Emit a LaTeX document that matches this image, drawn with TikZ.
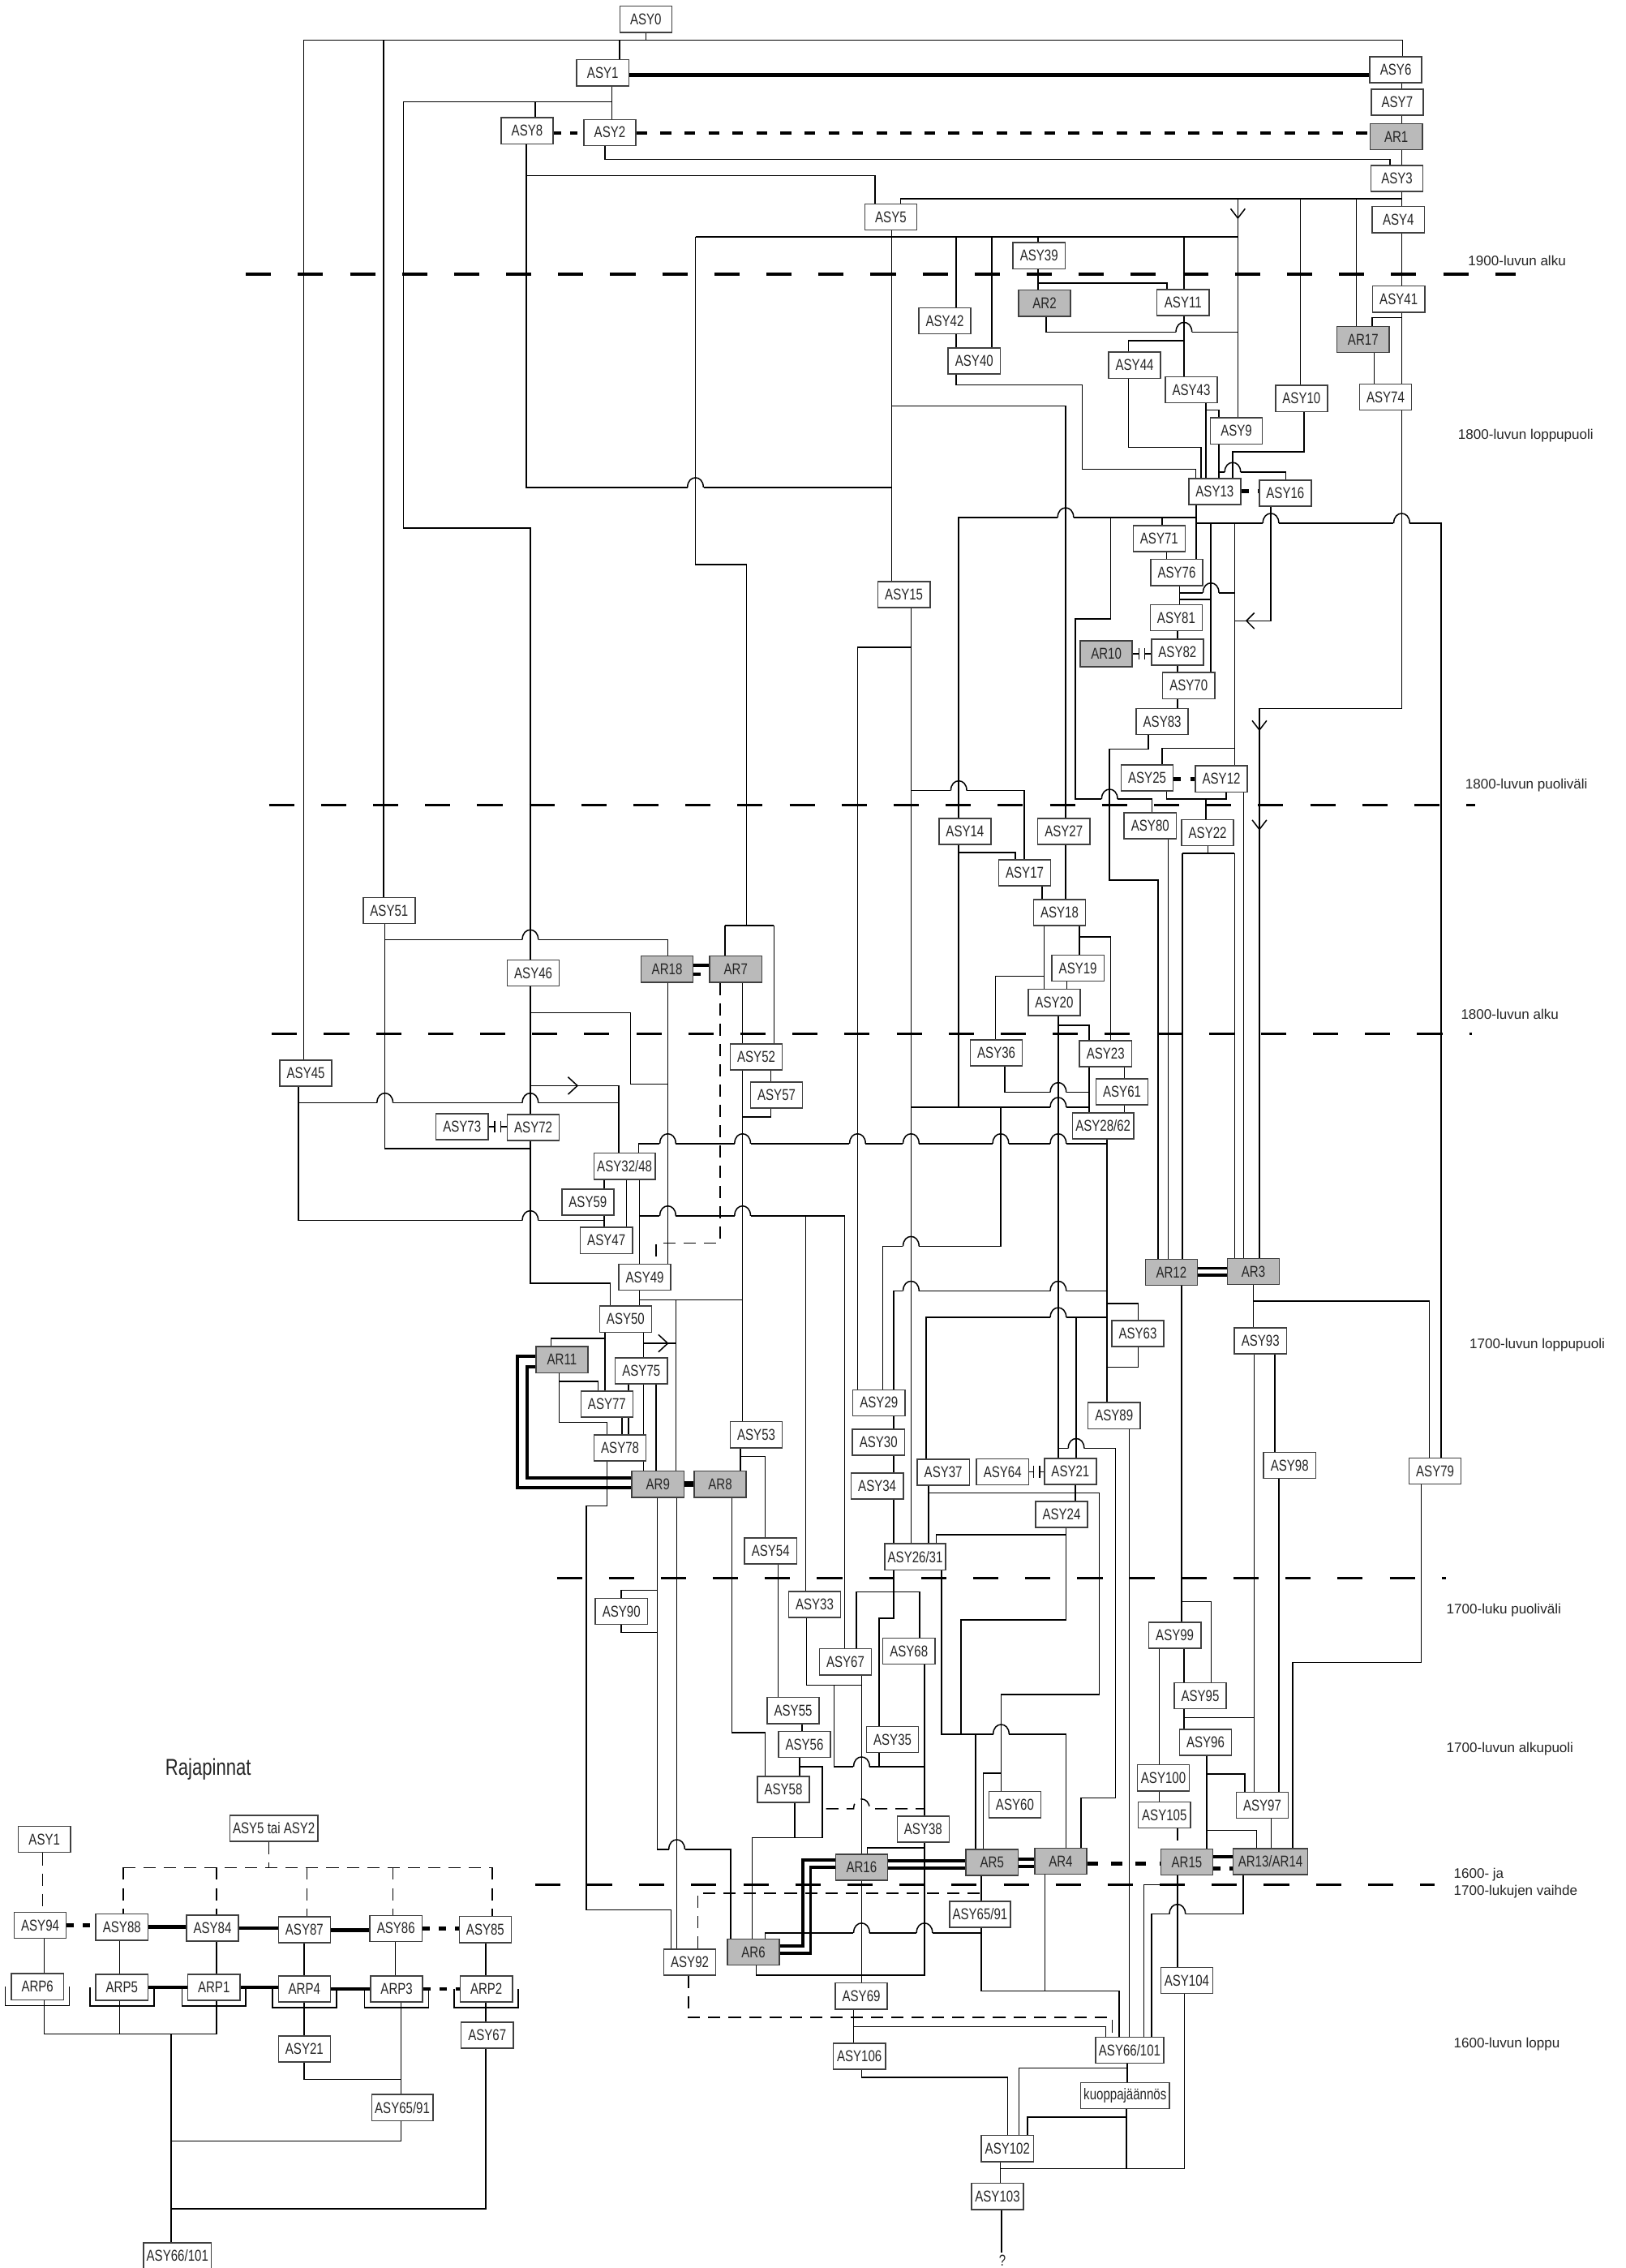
\documentclass[tikz,border=0pt]{standalone}
\usepackage{fontspec}
\newfontfamily\narrowfont{Liberation Sans}[FakeStretch=0.78]
\newfontfamily\plainfont{Liberation Sans}
\usetikzlibrary{backgrounds}
\newcommand\hopover[2]{%
  \fill[white] (#1-5.6,#2-1) rectangle (#1+5.6,#2+1);
  \draw[wire] (#1,#2-2.5) -- (#1,#2+2.5);
  \draw[wire] (#1-5.5,#2) .. controls (#1-5.5,#2-9) and (#1+5.5,#2-9) .. (#1+5.5,#2);}
\newcommand\tipdown[2]{\draw[wire] (#1-5,#2-6.5) -- (#1,#2) -- (#1+5,#2-6.5);}
\newcommand\tipright[2]{\draw[wire] (#1-6.5,#2-6) -- (#1,#2) -- (#1-6.5,#2+6);}
\newcommand\tipleft[2]{\draw[wire] (#1+5.5,#2-5.5) -- (#1,#2) -- (#1+5.5,#2+5.5);}
\newcommand\stopmark[3]{%
  \draw[wire] (#1.east) -- (#1.east -| #3-2,0) ++(0,-4) -- ++(0,8);
  \draw[wire] (#2.west |- #1.east) -- (#1.east -| #3+2,0) ++(0,-4) -- ++(0,8);}
\newcommand\arpcup[1]{\draw[wire] ([shift={(-3.7,0)}]#1.west) -- ([shift={(-3.7,3.5)}]#1.south west) -- ([shift={(3.7,3.5)}]#1.south east) -- ([shift={(3.7,0)}]#1.east);}
\begin{document}
\begin{tikzpicture}[x=0.025cm,y=-0.025cm,
  box/.style={draw=black!75,line width=0.6pt,fill=white,text=black!85,minimum width=0.9cm,minimum height=0.45cm,inner sep=1.5pt,font=\narrowfont\fontsize{7.7}{9}\selectfont},
  arbox/.style={box,fill=black!27},
  tag/.style={inner sep=1pt,text=black!85,font=\narrowfont\fontsize{7.7}{9}\selectfont},
  stamp/.style={anchor=west,align=left,inner sep=0pt,text=black!85,font=\plainfont\fontsize{6.8}{8.2}\selectfont},
  wire/.style={line width=0.6pt},
  heavy/.style={line width=1.9pt},
  heavy2/.style={line width=1.5pt},
  heavy3/.style={line width=2.6pt},
  heavydash/.style={line width=1.9pt,dash pattern=on 5.3pt off 6.5pt},
  shortdash/.style={line width=1.9pt,dash pattern=on 3.5pt off 4.5pt},
  thindash/.style={line width=0.6pt,dash pattern=on 6pt off 4pt},
  period/.style={line width=1.4pt,dash pattern=on 12.4pt off 13.2pt}]
\useasboundingbox (0,0) rectangle (1124,1568);

\node[box] (asy0) at (446.6,13.3) {ASY0};
\node[box] (asy1) at (416.8,50.3) {ASY1};
\node[box] (asy6) at (965.2,48.2) {ASY6};
\node[box] (asy7) at (966.2,70.7) {ASY7};
\node[box] (asy8) at (364.5,90.4) {ASY8};
\node[box] (asy2) at (421.7,91.6) {ASY2};
\node[arbox] (ar1) at (965.5,94.5) {AR1};
\node[box] (asy3) at (966,123.3) {ASY3};
\node[box] (asy5) at (616,150) {ASY5};
\node[box] (asy4) at (967,151.8) {ASY4};
\node[box] (asy39) at (718.5,176.8) {ASY39};
\node[arbox] (ar2) at (722.3,209.6) {AR2};
\node[box] (asy11) at (818.1,209.2) {ASY11};
\node[box] (asy41) at (967.2,206.8) {ASY41};
\node[box] (asy42) at (653.3,221.8) {ASY42};
\node[arbox] (ar17) at (942.6,234.7) {AR17};
\node[box] (asy40) at (673.7,249.5) {ASY40};
\node[box] (asy44) at (784.6,252.5) {ASY44};
\node[box] (asy43) at (823.8,269.5) {ASY43};
\node[box] (asy10) at (900,275.5) {ASY10};
\node[box] (asy74) at (958.1,274.6) {ASY74};
\node[box] (asy9) at (855,297.9) {ASY9};
\node[box] (asy13) at (840,339.8) {ASY13};
\node[box] (asy16) at (888.8,341) {ASY16};
\node[box] (asy71) at (801.6,372.3) {ASY71};
\node[box] (asy76) at (813.7,395.8) {ASY76};
\node[box] (asy15) at (625.1,411.1) {ASY15};
\node[box] (asy81) at (813.4,427) {ASY81};
\node[arbox] (ar10) at (765,452.1) {AR10};
\node[box] (asy82) at (814.2,450.8) {ASY82};
\node[box] (asy70) at (822,474) {ASY70};
\node[box] (asy83) at (803.7,498.8) {ASY83};
\node[box] (asy25) at (793.3,537.7) {ASY25};
\node[box] (asy12) at (844.6,538.5) {ASY12};
\node[box] (asy14) at (667.3,574.9) {ASY14};
\node[box] (asy27) at (735.6,574.9) {ASY27};
\node[box] (asy80) at (795.4,570.8) {ASY80};
\node[box] (asy22) at (835.1,575.7) {ASY22};
\node[box] (asy17) at (708.6,603.5) {ASY17};
\node[box] (asy51) at (269.1,629.5) {ASY51};
\node[box] (asy18) at (732.7,631) {ASY18};
\node[arbox] (ar18) at (461.3,670) {AR18};
\node[arbox] (ar7) at (508.8,670) {AR7};
\node[box] (asy46) at (368.8,672.6) {ASY46};
\node[box] (asy19) at (745.4,669.3) {ASY19};
\node[box] (asy20) at (729,693) {ASY20};
\node[box] (asy36) at (689,727.9) {ASY36};
\node[box] (asy23) at (764.5,728.5) {ASY23};
\node[box] (asy45) at (211.5,742) {ASY45};
\node[box] (asy52) at (523,730.8) {ASY52};
\node[box] (asy61) at (775.9,754.8) {ASY61};
\node[box] (asy57) at (537,757.1) {ASY57};
\node[box] (asy73) at (319.5,779) {ASY73};
\node[box] (asy72) at (368.8,779.5) {ASY72};
\node[box] (asy2862) at (762.8,778.4) {ASY28/62};
\node[box] (asy3248) at (431.9,806.3) {ASY32/48};
\node[box] (asy59) at (406.5,831.1) {ASY59};
\node[box] (asy47) at (419.3,857.6) {ASY47};
\node[arbox] (ar12) at (810,879.7) {AR12};
\node[arbox] (ar3) at (866.7,879) {AR3};
\node[box] (asy49) at (445.9,883) {ASY49};
\node[box] (asy50) at (432.6,912) {ASY50};
\node[box] (asy63) at (786.8,921.9) {ASY63};
\node[box] (asy93) at (871.6,927) {ASY93};
\node[arbox] (ar11) at (388.6,940) {AR11};
\node[box] (asy75) at (443.5,947.8) {ASY75};
\node[box] (asy77) at (419.7,970.7) {ASY77};
\node[box] (asy29) at (607.8,969.8) {ASY29};
\node[box] (asy89) at (770.4,978.7) {ASY89};
\node[box] (asy53) at (523,991.9) {ASY53};
\node[box] (asy30) at (607.5,997.2) {ASY30};
\node[box] (asy78) at (428.8,1001) {ASY78};
\node[box] (asy37) at (652.3,1017.8) {ASY37};
\node[box] (asy64) at (693.3,1017.6) {ASY64};
\node[box] (asy21) at (740.2,1017.3) {ASY21};
\node[box] (asy98) at (891.8,1013.1) {ASY98};
\node[box] (asy79) at (992.4,1017) {ASY79};
\node[arbox] (ar9) at (455,1026.1) {AR9};
\node[arbox] (ar8) at (498,1026.1) {AR8};
\node[box] (asy34) at (606.6,1027.4) {ASY34};
\node[box] (asy24) at (734.1,1047.1) {ASY24};
\node[box] (asy54) at (532.9,1072.2) {ASY54};
\node[box] (asy2631) at (632.9,1076.3) {ASY26/31};
\node[box] (asy90) at (429.7,1114) {ASY90};
\node[box] (asy33) at (563.3,1109.3) {ASY33};
\node[box] (asy99) at (812.4,1130.6) {ASY99};
\node[box] (asy67) at (584.6,1148.9) {ASY67};
\node[box] (asy68) at (628.5,1141.6) {ASY68};
\node[box] (asy95) at (830,1172.4) {ASY95};
\node[box] (asy55) at (548.5,1182.6) {ASY55};
\node[box] (asy56) at (556.3,1206) {ASY56};
\node[box] (asy35) at (617.2,1202.6) {ASY35};
\node[box] (asy96) at (833.6,1204.5) {ASY96};
\node[box] (asy58) at (541.7,1237.1) {ASY58};
\node[box] (asy100) at (804.5,1229.1) {ASY100};
\node[box] (asy60) at (701.8,1247.6) {ASY60};
\node[box] (asy97) at (872.9,1248) {ASY97};
\node[box] (asy105) at (805.2,1254.7) {ASY105};
\node[box] (asy38) at (638.4,1264.5) {ASY38};
\node[arbox] (ar16) at (595.8,1290.9) {AR16};
\node[arbox] (ar5) at (686,1287.5) {AR5};
\node[arbox] (ar4) at (733.5,1286.8) {AR4};
\node[arbox] (ar15) at (820.7,1287.3) {AR15};
\node[arbox,minimum width=1.29cm] (ar1314) at (878.5,1287) {AR13/AR14};
\node[box] (asy6591) at (677.7,1323.5) {ASY65/91};
\node[box] (asy92) at (477,1356.6) {ASY92};
\node[arbox] (ar6) at (521,1349.5) {AR6};
\node[box] (asy104) at (820.7,1369.2) {ASY104};
\node[box] (asy69) at (595.6,1380) {ASY69};
\node[box] (asy66101) at (781.2,1417.5) {ASY66/101};
\node[box] (asy106) at (594.3,1421.7) {ASY106};
\node[box] (kuoppa) at (778,1448.9) {kuoppajäännös};
\node[box] (asy102) at (696.7,1485.4) {ASY102};
\node[box] (asy103) at (689.8,1518.5) {ASY103};
\node[tag] (q) at (693.2,1563) {?};

\node[tag,font=\narrowfont\fontsize{11.3}{13}\selectfont] (raja) at (144,1223) {Rajapinnat};
\node[box] (lasy1) at (30.7,1271.7) {ASY1};
\node[box] (lasy52) at (189.4,1264) {ASY5 tai ASY2};
\node[box] (lasy94) at (27.8,1331) {ASY94};
\node[box] (lasy88) at (84.3,1332.3) {ASY88};
\node[box] (lasy84) at (146.9,1333) {ASY84};
\node[box] (lasy87) at (210.5,1334.2) {ASY87};
\node[box] (lasy86) at (273.8,1333.2) {ASY86};
\node[box] (lasy85) at (335.6,1334) {ASY85};
\node[box] (larp6) at (25.9,1373.5) {ARP6};
\node[box] (larp5) at (84.3,1374) {ARP5};
\node[box] (larp1) at (147.9,1374) {ARP1};
\node[box] (larp4) at (210.5,1375) {ARP4};
\node[box] (larp3) at (274.3,1375) {ARP3};
\node[box] (larp2) at (336.3,1375) {ARP2};
\node[box] (lasy21) at (210.5,1416.6) {ASY21};
\node[box] (lasy67) at (336.9,1407) {ASY67};
\node[box] (lasy6591) at (278.2,1457.1) {ASY65/91};
\node[box] (lasy66101) at (122.7,1559.5) {ASY66/101};

\node[stamp] (p1) at (1015,180) {1900-luvun alku};
\node[stamp] (p2) at (1008,301) {1800-luvun loppupuoli};
\node[stamp] (p3) at (1013,543) {1800-luvun puoliväli};
\node[stamp] (p4) at (1010,701) {1800-luvun alku};
\node[stamp] (p5) at (1016,930) {1700-luvun loppupuoli};
\node[stamp] (p6) at (1000,1113) {1700-luku puoliväli};
\node[stamp] (p7) at (1000,1209) {1700-luvun alkupuoli};
\node[stamp] (p8) at (1005,1302) {1600- ja\\1700-lukujen vaihde};
\node[stamp] (p9) at (1005,1413) {1600-luvun loppu};

\begin{scope}[on background layer]
\fill[white] (0,0) rectangle (1124,1568);
\draw[period] (170,189.6) -- (1048,189.6);
\draw[period] (186,556.7) -- (1020,556.7);
\draw[period] (188,714.6) -- (1018,714.6);
\draw[period] (385,1090.9) -- (1000,1090.9);
\draw[period] (370,1303.1) -- (992,1303.1);

\draw[wire] (asy45.north -| 210,0) -- (210,27.7) -- (969.8,27.7) -- (asy6.north -| 969.8,0);
\draw[wire] (asy0.south) -- (asy0.south |- 0,27.7);
\draw[wire] (428.4,27.7) -- (asy1.north -| 428.4,0);
\draw[wire] (265.3,27.7) -- (asy51.north -| 265.3,0);
\draw[heavy] (asy1.east |- 0,51.7) -- (asy6.west |- 0,51.7);
\draw[wire] (asy6.south -| 969.3,0) -- (969.3,489.9) -- (870.9,489.9) -- (ar3.north -| 870.9,0);
\draw[wire] (969.3,219.5) -- (948.9,219.5) -- (ar17.north -| 948.9,0);
\draw[wire] (ar17.south -| 950.2,0) -- (asy74.north -| 950.2,0);
\draw[wire] (asy1.south -| 423,0) -- (423,70.3) -- (279,70.3) -- (279,365.1) -- (366.7,365.1) -- (asy46.north -| 366.7,0);
\draw[wire] (370.2,70.3) -- (asy8.north -| 370.2,0);
\draw[wire] (423,70.3) -- (asy2.north -| 423,0);
\draw[shortdash] (asy8.east |- 0,92) -- (asy2.west |- 0,92);
\draw[heavydash] (asy2.east |- 0,92) -- (ar1.west |- 0,92);
\draw[wire] (asy2.south -| 418.4,0) -- (418.4,110.2) -- (961.1,110.2) -- (asy3.north -| 961.1,0);
\draw[wire] (asy8.south -| 364,0) -- (364,337) -- (616.5,337);
\draw[wire] (364,121.3) -- (605,121.3) -- (asy5.north -| 605,0);
\draw[wire] (969.3,137.5) -- (622.7,137.5) -- (asy5.north -| 622.7,0);
\draw[wire] (899.1,137.5) -- (asy10.north -| 899.1,0);
\draw[wire] (938,137.5) -- (ar17.north -| 938,0);
\draw[wire] (856,137.5) -- (asy9.north -| 856,0);
\draw[wire] (asy5.south -| 616.5,0) -- (asy15.north -| 616.5,0);
\draw[wire] (480.9,163.7) -- (856,163.7);
\draw[wire] (480.9,163.7) -- (480.9,390.3) -- (516.2,390.3) -- (516.2,639.8);
\draw[wire] (501.3,639.8) -- (535.2,639.8);
\draw[wire] (501.3,639.8) -- (ar7.north -| 501.3,0);
\draw[wire] (535.2,639.8) -- (asy52.north -| 535.2,0);
\draw[wire] (661.3,163.7) -- (asy42.north -| 661.3,0);
\draw[wire] (685.8,163.7) -- (asy40.north -| 685.8,0);
\draw[wire] (717.8,163.7) -- (asy39.north -| 717.8,0);
\draw[wire] (818.7,163.7) -- (asy11.north -| 818.7,0);
\draw[wire] (asy39.south -| 717.8,0) -- (ar2.north -| 717.8,0);
\draw[wire] (717.8,195.6) -- (807,195.6) -- (asy11.north -| 807,0);
\draw[wire] (ar2.south -| 723.3,0) -- (723.3,229.6) -- (856,229.6);
\draw[wire] (asy11.south -| 818.7,0) -- (asy43.north -| 818.7,0);
\draw[wire] (818.7,235.5) -- (780.4,235.5) -- (asy44.north -| 780.4,0);
\draw[wire] (asy42.south -| 661.3,0) -- (asy40.north -| 661.3,0);
\draw[wire] (asy40.south -| 661.3,0) -- (661.3,266.2) -- (748.3,266.2) -- (748.3,324.3) -- (827,324.3) -- (asy13.north -| 827,0);
\draw[wire] (asy44.south -| 780.4,0) -- (780.4,309.4) -- (830.5,309.4) -- (asy13.north -| 830.5,0);
\draw[wire] (asy43.south -| 833.9,0) -- (asy13.north -| 833.9,0);
\draw[wire] (833.9,283.5) -- (842.9,283.5) -- (asy9.north -| 842.9,0);
\draw[wire] (asy9.south -| 842.9,0) -- (asy13.north -| 842.9,0);
\draw[wire] (842.9,326.5) -- (889.1,326.5) -- (asy16.north -| 889.1,0);
\draw[wire] (asy10.south -| 901.9,0) -- (901.9,312.3) -- (852.4,312.3) -- (asy13.north -| 852.4,0);
\draw[shortdash] (asy13.east |- 0,339.5) -- (asy16.west |- 0,339.5);

\draw[wire] (asy13.south -| 827.1,0) -- (asy76.north -| 827.1,0);
\draw[wire] (827.1,357.8) -- (663,357.8) -- (asy14.north -| 663,0);
\draw[wire] (803.5,357.8) -- (asy71.north -| 803.5,0);
\draw[wire] (768.1,357.8) -- (768.1,428) -- (743.7,428) -- (743.7,552.4) -- (796.7,552.4) -- (asy80.north -| 796.7,0);
\draw[wire] (827.1,361.7) -- (996.4,361.7) -- (asy79.north -| 996.4,0);
\draw[wire] (837.4,361.7) -- (asy70.north -| 837.4,0);
\draw[wire] (853.7,361.7) -- (asy12.north -| 853.7,0);
\draw[wire] (asy71.south -| 806.7,0) -- (asy76.north -| 806.7,0);
\draw[wire] (asy76.south -| 815.7,0) -- (asy81.north -| 815.7,0);
\draw[wire] (815.7,409.8) -- (853.7,409.8);
\draw[wire] (815.7,414.3) -- (837.4,414.3);
\draw[wire] (asy81.south -| 814.3,0) -- (asy83.north -| 814.3,0);
\stopmark{ar10}{asy82}{789.6}
\draw[wire] (asy16.south -| 878.8,0) -- (878.8,429.2) -- (853.7,429.2);
\draw[wire] (asy83.south -| 794.2,0) -- (794.2,518) -- (767.3,518) -- (767.3,608.4) -- (800.7,608.4) -- (ar12.north -| 800.7,0);
\draw[wire] (asy25.north -| 803.5,0) -- (803.5,517.3) -- (853.7,517.3);
\draw[shortdash] (asy25.east |- 0,538.5) -- (asy12.west |- 0,538.5);
\draw[wire] (asy25.south -| 806.7,0) -- (806.7,552.4) -- (847.8,552.4) -- (asy12.south -| 847.8,0);
\draw[wire] (833.9,552.4) -- (asy22.north -| 833.9,0);
\draw[wire] (asy12.south -| 860,0) -- (ar3.north -| 860,0);
\draw[wire] (asy80.south -| 807.8,0) -- (ar12.north -| 807.8,0);
\draw[wire] (asy22.south -| 835.3,0) -- (835.3,589.9);
\draw[wire] (817.6,589.9) -- (853.7,589.9);
\draw[wire] (817.6,589.9) -- (ar12.north -| 817.6,0);
\draw[wire] (853.7,589.9) -- (ar3.north -| 853.7,0);
\draw[heavy2] (ar12.east |- 0,876.8) -- (ar3.west |- 0,876.8);
\draw[heavy2] (ar12.east |- 0,881.6) -- (ar3.west |- 0,881.6);

\draw[wire] (asy15.south -| 630,0) -- (asy2631.north -| 630,0);
\draw[wire] (630,447.5) -- (593,447.5) -- (asy29.north -| 593,0);
\draw[wire] (630,546.6) -- (708.3,546.6) -- (asy17.north -| 708.3,0);
\draw[wire] (asy14.south -| 663,0) -- (663,765.5);
\draw[wire] (663,589.4) -- (702,589.4) -- (asy17.north -| 702,0);
\draw[wire] (616.5,280.6) -- (736.9,280.6) -- (asy27.north -| 736.9,0);
\draw[wire] (asy17.south -| 720.6,0) -- (asy18.north -| 720.6,0);
\draw[wire] (asy27.south -| 736.9,0) -- (asy18.north -| 736.9,0);
\draw[wire] (asy18.south -| 722,0) -- (asy20.north -| 722,0);
\draw[wire] (722,674.8) -- (688.5,674.8) -- (asy36.north -| 688.5,0);
\draw[wire] (asy18.south -| 746.4,0) -- (asy19.north -| 746.4,0);
\draw[wire] (746.4,647.8) -- (768.1,647.8) -- (asy23.north -| 768.1,0);
\draw[wire] (asy19.south -| 737.7,0) -- (asy20.north -| 737.7,0);
\draw[wire] (asy20.south -| 731.8,0) -- (asy21.north -| 731.8,0);
\draw[wire] (731.8,708.7) -- (753.2,708.7) -- (asy23.north -| 753.2,0);
\draw[wire] (asy23.south -| 753.2,0) -- (asy2862.north -| 753.2,0);
\draw[wire] (asy23.south -| 777.6,0) -- (asy61.north -| 777.6,0);
\draw[wire] (asy61.south -| 777.6,0) -- (asy2862.north -| 777.6,0);
\draw[wire] (asy36.south -| 694.7,0) -- (694.7,755.2) -- (753.2,755.2);
\draw[wire] (630,765.5) -- (753.2,765.5);
\draw[wire] (692,765.5) -- (692,861.6) -- (610.5,861.6) -- (asy29.north -| 610.5,0);
\draw[wire] (asy2862.south -| 765.4,0) -- (asy89.north -| 765.4,0);
\draw[wire] (asy3248.north -| 441.5,0) -- (441.5,790.6) -- (765.4,790.6);
\draw[wire] (765.4,892.5) -- (618.1,892.5) -- (asy29.north -| 618.1,0);
\draw[wire] (765.4,910.8) -- (640.4,910.8) -- (asy37.north -| 640.4,0);
\draw[wire] (744.2,910.8) -- (asy21.north -| 744.2,0);
\draw[wire] (765.4,901.2) -- (787.2,901.2) -- (asy63.north -| 787.2,0);
\draw[wire] (asy63.south -| 787.2,0) -- (787.2,945.1) -- (765.4,945.1);
\draw[wire] (731.8,1001.3) -- (771.4,1001.3) -- (771.4,1243) -- (747.5,1243) -- (ar4.north -| 747.5,0);
\draw[wire] (asy89.south -| 781,0) -- (asy66101.north -| 781,0);
\stopmark{asy64}{asy21}{716.8}
\draw[wire] (asy29.south -| 618.1,0) -- (asy2631.north -| 618.1,0);
\draw[wire] (asy37.south -| 642,0) -- (asy2631.north -| 642,0);
\draw[wire] (642,1032.1) -- (760.2,1032.1) -- (760.2,1171.5) -- (692.3,1171.5) -- (asy60.north -| 692.3,0);
\draw[wire] (692.3,1225.8) -- (680.1,1225.8) -- (ar5.north -| 680.1,0);
\draw[wire] (asy21.south -| 743.7,0) -- (asy24.north -| 743.7,0);
\draw[wire] (asy24.south -| 737.1,0) -- (737.1,1120) -- (664.6,1120) -- (664.6,1199);
\draw[wire] (737.1,1061) -- (647.4,1061) -- (asy2631.north -| 647.4,0);
\draw[wire] (asy2631.south -| 651,0) -- (651,1199) -- (737.1,1199) -- (ar4.north -| 737.1,0);
\draw[wire] (674.6,1199) -- (ar5.north -| 674.6,0);
\draw[wire] (asy2631.south -| 618.1,0) -- (618.1,1118.9) -- (608,1118.9) -- (asy35.north -| 608,0);
\draw[wire] (592.3,1100.5) -- (636,1100.5);
\draw[wire] (592.3,1100.5) -- (asy67.north -| 592.3,0);
\draw[wire] (636,1100.5) -- (asy68.north -| 636,0);

\draw[wire] (asy3248.south -| 417.8,0) -- (asy47.north -| 417.8,0);
\draw[wire] (asy3248.south -| 433.3,0) -- (asy47.north -| 433.3,0);
\draw[wire] (asy3248.south -| 442.3,0) -- (asy50.north -| 442.3,0);
\draw[wire] (442.3,840.5) -- (584.2,840.5) -- (asy67.north -| 584.2,0);
\draw[wire] (557.2,840.5) -- (asy33.north -| 557.2,0);
\draw[wire] (asy45.south -| 206.4,0) -- (206.4,843.8) -- (417.8,843.8);
\draw[wire] (206.4,762.5) -- (427.9,762.5);
\draw[wire] (366.7,750.6) -- (427.9,750.6) -- (asy3248.north -| 427.9,0);
\draw[wire] (asy46.south -| 366.7,0) -- (asy72.north -| 366.7,0);
\draw[wire] (366.7,700.2) -- (436,700.2) -- (436,749.4) -- (461.8,749.4);
\draw[wire] (asy51.south -| 266.2,0) -- (266.2,794) -- (366.7,794);
\draw[wire] (266.2,649.6) -- (461.8,649.6) -- (ar18.north -| 461.8,0);
\stopmark{asy73}{asy72}{344.2}
\draw[wire] (asy72.south -| 366.7,0) -- (366.7,887.2) -- (421.9,887.2) -- (asy50.north -| 421.9,0);
\draw[wire] (ar18.south -| 461.8,0) -- (asy49.north -| 461.8,0);
\draw[heavy] (ar18.east |- 0,667.3) -- (ar7.west |- 0,667.3);
\draw[shortdash] (ar18.east |- 0,673.5) -- (ar7.west |- 0,673.5);
\draw[thindash] (ar7.south -| 498,0) -- (498,859.3) -- (453.7,859.3) -- (asy49.north -| 453.7,0);
\draw[wire] (ar7.south -| 513.5,0) -- (asy53.north -| 513.5,0);
\draw[wire] (asy52.south -| 533,0) -- (asy57.north -| 533,0);
\draw[wire] (asy57.south -| 533,0) -- (533,772.3) -- (513.5,772.3);
\draw[wire] (442.3,898.7) -- (513.5,898.7);
\draw[wire] (467.3,898.7) -- (ar9.north -| 467.3,0);
\draw[wire] (asy50.south -| 418.3,0) -- (asy77.north -| 418.3,0);
\draw[wire] (418.3,925.2) -- (381.1,925.2) -- (ar11.north -| 381.1,0);
\draw[wire] (asy50.south -| 445,0) -- (asy75.north -| 445,0);
\draw[wire] (445,928.7) -- (467.3,928.7);
\draw[wire] (ar11.south -| 386.6,0) -- (386.6,983.4) -- (419.7,983.4) -- (asy78.north -| 419.7,0);
\draw[wire] (386.6,955) -- (413.5,955) -- (asy77.north -| 413.5,0);
\draw[wire] (asy77.south -| 430,0) -- (asy78.north -| 430,0);
\draw[wire] (asy75.south -| 434.7,0) -- (asy78.north -| 434.7,0);
\draw[wire] (asy75.south -| 445,0) -- (ar9.north -| 445,0);
\draw[wire] (asy75.south -| 453.7,0) -- (ar9.north -| 453.7,0);
\draw[heavy2] (ar11.west |- 0,937.8) -- (357.8,937.8) -- (357.8,1028.7) -- (ar9.west |- 0,1028.7);
\draw[heavy2] (ar11.west |- 0,945) -- (364.5,945) -- (364.5,1021.8) -- (ar9.west |- 0,1021.8);
\draw[heavy3] (ar9.east) -- (ar8.west);
\draw[wire] (asy53.south -| 512.1,0) -- (ar8.north -| 512.1,0);
\draw[wire] (512.1,1006.9) -- (529.2,1006.9) -- (asy54.north -| 529.2,0);
\draw[wire] (asy78.south -| 419.7,0) -- (419.7,1041) -- (405.5,1041) -- (405.5,1320.3) -- (464,1320.3) -- (asy92.north -| 464,0);
\draw[wire] (ar9.south -| 468,0) -- (asy92.north -| 468,0);
\draw[wire] (ar9.south -| 454.5,0) -- (454.5,1278.6) -- (505.3,1278.6) -- (ar6.north -| 505.3,0);
\draw[wire] (asy90.north -| 429.5,0) -- (429.5,1099.4) -- (454.5,1099.4);
\draw[wire] (asy90.south -| 429.5,0) -- (429.5,1128.7) -- (454.5,1128.7);
\draw[wire] (ar8.south -| 506.1,0) -- (506.1,1197.8) -- (529.2,1197.8) -- (asy58.north -| 529.2,0);
\draw[wire] (asy54.south -| 538.2,0) -- (asy55.north -| 538.2,0);
\draw[wire] (asy55.south -| 554.5,0) -- (asy56.north -| 554.5,0);
\draw[wire] (asy56.south -| 552.9,0) -- (asy58.north -| 552.9,0);
\draw[wire] (552.9,1221.4) -- (568.6,1221.4) -- (568.6,1270.5) -- (520.2,1270.5) -- (ar6.north -| 520.2,0);
\draw[wire] (asy58.south -| 549.6,0) -- (549.6,1270.5);
\draw[wire] (asy33.south -| 557.7,0) -- (557.7,1165.1) -- (595.8,1165.1);
\draw[wire] (576.8,1165.1) -- (576.8,1221.4) -- (639.3,1221.4);
\draw[wire] (asy67.south -| 595.8,0) -- (asy69.north -| 595.8,0);
\draw[wire] (asy35.south -| 608,0) -- (608,1221.4);
\draw[wire] (asy68.south -| 639.3,0) -- (639.3,1365.4) -- (523,1365.4) -- (ar6.south -| 523,0);
\draw[wire] (ar16.north -| 599.9,0) -- (599.9,1277.5) -- (639.3,1277.5);
\draw[thindash] (571.3,1250.5) -- (590.3,1250.5) .. controls (590.3,1241.5) and (601.3,1241.5) .. (601.3,1250.5) -- (639.3,1250.5);
\draw[wire] (asy6591.south -| 678.7,0) -- (678.7,1376.4) -- (773.8,1376.4) -- (asy66101.north -| 773.8,0);
\draw[wire] (678.7,1336.3) -- (529.2,1336.3) -- (ar6.north -| 529.2,0);
\draw[wire] (ar5.south -| 678.7,0) -- (asy6591.north -| 678.7,0);
\draw[wire] (ar4.south -| 722.7,0) -- (722.7,1376.4);
\draw[thindash] (asy92.north -| 482.5,0) -- (482.5,1308.8) -- (678.7,1308.8);
\draw[thindash] (asy92.south -| 476.2,0) -- (476.2,1394.6) -- (769,1394.6) -- (asy66101.north -| 769,0);
\draw[heavy2] (ar16.east |- 0,1286.5) -- (ar5.west |- 0,1286.5);
\draw[heavy2] (ar16.east |- 0,1291.5) -- (ar5.west |- 0,1291.5);
\draw[heavy2] (ar5.east |- 0,1285.5) -- (ar4.west |- 0,1285.5);
\draw[heavy2] (ar5.east |- 0,1290.5) -- (ar4.west |- 0,1290.5);
\draw[heavy2] (ar16.west |- 0,1286) -- (555,1286) -- (555,1345.5) -- (ar6.east |- 0,1345.5);
\draw[heavy2] (ar16.west |- 0,1291) -- (560.5,1291) -- (560.5,1350.5) -- (ar6.east |- 0,1350.5);
\draw[heavydash] (ar4.east |- 0,1288.3) -- (ar15.west |- 0,1288.3);
\draw[heavy] (ar15.east |- 0,1283.7) -- (ar1314.west |- 0,1283.7);
\draw[shortdash] (ar15.east |- 0,1291.7) -- (ar1314.west |- 0,1291.7);

\draw[wire] (ar12.south -| 817.2,0) -- (asy99.north -| 817.2,0);
\draw[wire] (817.2,1107.4) -- (837.6,1107.4) -- (asy95.north -| 837.6,0);
\draw[wire] (ar3.south -| 866.8,0) -- (asy93.north -| 866.8,0);
\draw[wire] (866.8,899.4) -- (988.3,899.4) -- (asy79.north -| 988.3,0);
\draw[wire] (asy93.south -| 867.2,0) -- (asy97.north -| 867.2,0);
\draw[wire] (asy93.south -| 881.5,0) -- (asy98.north -| 881.5,0);
\draw[wire] (asy98.south -| 884.3,0) -- (asy97.north -| 884.3,0);
\draw[wire] (asy79.south -| 982.8,0) -- (982.8,1149.3) -- (894,1149.3) -- (ar1314.north -| 894,0);
\draw[wire] (asy99.south -| 818.9,0) -- (asy96.north -| 818.9,0);
\draw[wire] (asy99.south -| 801.7,0) -- (asy105.north -| 801.7,0);
\draw[wire] (818.9,1187.5) -- (867.2,1187.5);
\draw[wire] (asy96.south -| 834.6,0) -- (ar15.north -| 834.6,0);
\draw[wire] (834.6,1226.4) -- (860.7,1226.4) -- (asy97.north -| 860.7,0);
\draw[wire] (834.6,1265.4) -- (868.9,1265.4) -- (ar1314.north -| 868.9,0);
\draw[thindash] (asy105.south -| 814.2,0) -- (ar15.north -| 814.2,0);
\draw[wire] (asy97.south -| 879,0) -- (ar1314.north -| 879,0);
\draw[wire] (ar15.south -| 814.2,0) -- (asy104.north -| 814.2,0);
\draw[wire] (814.2,1303.1) -- (791,1303.1) -- (asy66101.north -| 791,0);
\draw[wire] (ar1314.south -| 859.7,0) -- (859.7,1323.3) -- (796.4,1323.3) -- (asy66101.north -| 796.4,0);
\draw[wire] (asy69.south -| 590.1,0) -- (asy106.north -| 590.1,0);
\draw[wire] (590.1,1401.2) -- (764.7,1401.2) -- (asy66101.north -| 764.7,0);
\draw[wire] (asy106.south -| 595.8,0) -- (595.8,1436.3) -- (696.9,1436.3) -- (asy102.north -| 696.9,0);
\draw[wire] (asy66101.south -| 779.6,0) -- (kuoppa.north -| 779.6,0);
\draw[wire] (779.6,1429.8) -- (704.6,1429.8) -- (asy102.north -| 704.6,0);
\draw[wire] (kuoppa.south -| 779,0) -- (779,1499.3);
\draw[wire] (779,1463.8) -- (710.6,1463.8) -- (asy102.north -| 710.6,0);
\draw[wire] (asy102.south -| 691.7,0) -- (asy103.north -| 691.7,0);
\draw[wire] (691.7,1499.3) -- (819.1,1499.3) -- (asy104.south -| 819.1,0);
\draw[wire] (asy103.south -| 692.6,0) -- (q.north -| 692.6,0);

\tipdown{856}{150.8}
\tipleft{861.9}{429.2}
\tipdown{870.9}{504.7}
\tipdown{870.9}{573.4}
\tipright{399.3}{750.6}
\tipright{461.8}{928.7}

\draw[thindash] (lasy1.south -| 29.5,0) -- (lasy94.north -| 29.5,0);
\draw[thindash] (lasy52.south -| 186,0) -- (186,1291.2);
\draw[thindash] (85.1,1291.2) -- (340.5,1291.2);
\draw[thindash] (85.1,1291.2) -- (lasy88.north -| 85.1,0);
\draw[thindash] (149.7,1291.2) -- (lasy84.north -| 149.7,0);
\draw[thindash] (212.3,1291.2) -- (lasy87.north -| 212.3,0);
\draw[thindash] (271.7,1291.2) -- (lasy86.north -| 271.7,0);
\draw[thindash] (340.5,1291.2) -- (lasy85.north -| 340.5,0);
\draw[shortdash] (lasy94.east) -- (lasy88.west |- lasy94.east);
\draw[heavy] (lasy88.east) -- (lasy84.west |- lasy88.east);
\draw[heavy] (lasy84.east) -- (lasy87.west |- lasy84.east);
\draw[heavy] (lasy87.east) -- (lasy86.west |- lasy87.east);
\draw[shortdash] (lasy86.east) -- (lasy85.west |- lasy86.east);
\draw[wire] (lasy94.south -| 30.5,0) -- (larp6.north -| 30.5,0);
\draw[wire] (lasy88.south -| 82.7,0) -- (larp5.north -| 82.7,0);
\draw[wire] (lasy84.south -| 149.7,0) -- (larp1.north -| 149.7,0);
\draw[wire] (lasy87.south -| 210.3,0) -- (larp4.north -| 210.3,0);
\draw[wire] (lasy86.south -| 273.5,0) -- (larp3.north -| 273.5,0);
\draw[wire] (lasy85.south -| 336,0) -- (larp2.north -| 336,0);
\draw[heavy] (larp5.east) -- (larp1.west |- larp5.east);
\draw[heavy] (larp1.east) -- (larp4.west |- larp1.east);
\draw[heavy] (larp4.east) -- (larp3.west |- larp4.east);
\draw[shortdash] (larp3.east) -- (larp2.west |- larp3.east);
\arpcup{larp6}
\arpcup{larp5}
\arpcup{larp1}
\arpcup{larp4}
\arpcup{larp3}
\arpcup{larp2}
\draw[wire] (larp6.south -| 30.5,0) -- (30.5,1406.2) -- (149.7,1406.2) -- (larp1.south -| 149.7,0);
\draw[wire] (82.7,1406.2) -- (larp5.south -| 82.7,0);
\draw[wire] (118.2,1406.2) -- (lasy66101.north -| 118.2,0);
\draw[wire] (larp4.south -| 210.3,0) -- (lasy21.north -| 210.3,0);
\draw[wire] (lasy21.south -| 210.3,0) -- (210.3,1437.7) -- (277.2,1437.7);
\draw[wire] (larp3.south -| 277.2,0) -- (lasy6591.north -| 277.2,0);
\draw[wire] (lasy6591.south -| 277.2,0) -- (277.2,1480.2) -- (118.2,1480.2);
\draw[wire] (larp2.south -| 336,0) -- (lasy67.north -| 336,0);
\draw[wire] (lasy67.south -| 336,0) -- (336,1527) -- (118.2,1527);

\hopover{480.9}{337}
\hopover{818.7}{229.6}
\hopover{852.4}{326.5}
\hopover{736.9}{357.8}
\hopover{878.8}{361.7}
\hopover{969.3}{361.7}
\hopover{837.4}{409.8}
\hopover{767.3}{552.4}
\hopover{663}{546.6}
\hopover{366.7}{649.6}
\hopover{266.2}{762.5}
\hopover{366.7}{762.5}
\hopover{366.7}{843.8}
\hopover{461.8}{790.6}
\hopover{513.5}{790.6}
\hopover{593}{790.6}
\hopover{630}{790.6}
\hopover{692}{790.6}
\hopover{731.8}{790.6}
\hopover{461.8}{840.5}
\hopover{513.5}{840.5}
\hopover{731.8}{755.2}
\hopover{731.8}{765.5}
\hopover{630}{861.6}
\hopover{630}{892.5}
\hopover{731.8}{892.5}
\hopover{731.8}{910.8}
\hopover{744.2}{1001.3}
\hopover{468}{1278.6}
\hopover{595.8}{1221.4}
\hopover{595.8}{1336.3}
\hopover{639.3}{1336.3}
\hopover{692.3}{1199}
\hopover{814.2}{1323.3}
\end{scope}
\end{tikzpicture}
\end{document}
